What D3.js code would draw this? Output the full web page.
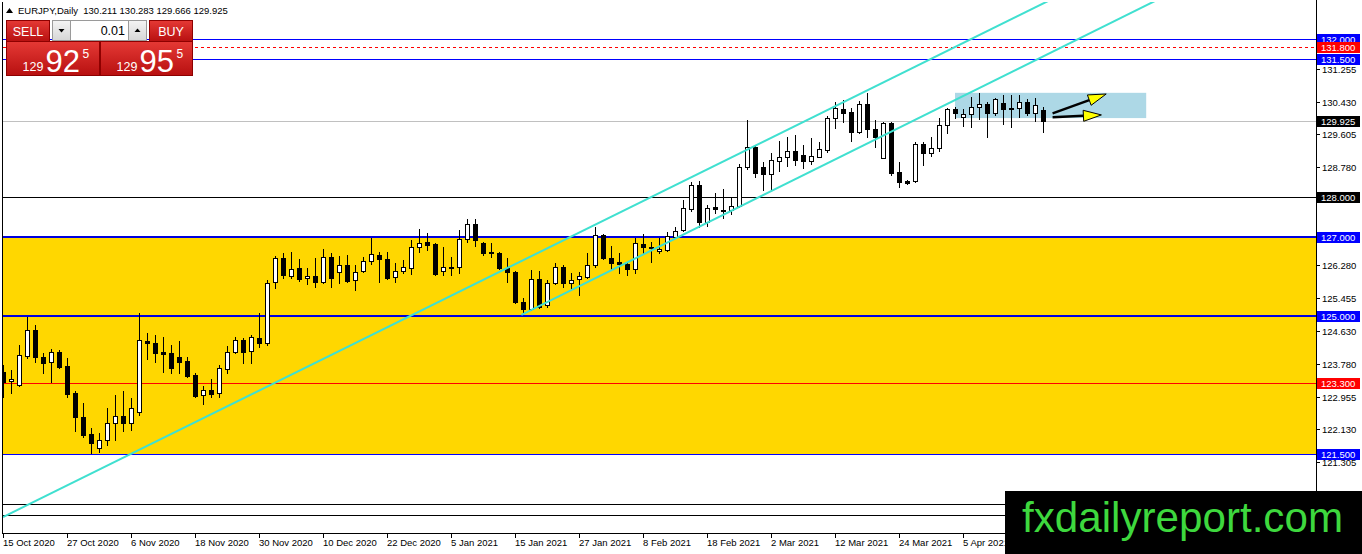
<!DOCTYPE html>
<html>
<head>
<meta charset="utf-8">
<script src="https://cdn.jsdelivr.net/npm/d3@7"></script>
<style>
body { margin: 0; background: #fff; overflow: hidden; }
text { font-family: "Liberation Sans", Arial, sans-serif; }
</style>
</head>
<body>
<div id="chart"></div>
<script>
// 头部信息
var symbolName = 'EURJPY,Daily';
var lastQuote = ['130.211', '130.283', '129.666', '129.925'];
var lotSize = '0.01';
var sellPrice = ['129', '92', '5'];
var buyPrice = ['129', '95', '5'];

// 时间轴标签（每8根K线一个）
var dateLabels = ['15 Oct 2020', '27 Oct 2020', '6 Nov 2020', '18 Nov 2020', '30 Nov 2020', '10 Dec 2020',
    '22 Dec 2020', '5 Jan 2021', '15 Jan 2021', '27 Jan 2021', '8 Feb 2021', '18 Feb 2021',
    '2 Mar 2021', '12 Mar 2021', '24 Mar 2021', '5 Apr 2021'];
var dateBars = [0, 8, 16, 24, 32, 40, 48, 56, 64, 72, 80, 88, 96, 104, 112, 120];

// 日线 OHLC
var openPrices = [123.58, 123.35, 123.25, 123.99, 124.65, 123.96, 123.84, 124.09, 123.73, 123.05,
    122.44, 122.01, 121.66, 121.86, 122.29, 122.47, 122.29, 122.57, 124.37, 124.32,
    124.09, 124.06, 123.96, 123.86, 123.51, 123.00, 123.13, 123.05, 123.66, 124.09,
    124.39, 124.11, 124.44, 124.32, 125.86, 126.47, 126.01, 126.22, 125.96, 126.01,
    125.86, 126.49, 126.11, 126.29, 125.91, 126.14, 126.39, 126.54, 126.44, 125.99,
    126.14, 126.22, 126.75, 126.87, 126.82, 126.14, 126.24, 126.24, 126.95, 127.33,
    126.85, 126.62, 126.59, 126.22, 126.11, 125.35, 125.18, 125.94, 125.28, 125.84,
    126.24, 125.84, 125.94, 125.99, 126.29, 127.05, 126.47, 126.37, 126.32, 126.19,
    126.82, 126.75, 126.65, 126.67, 127.00, 127.18, 127.71, 128.32, 127.38, 127.76,
    127.68, 127.68, 127.78, 128.77, 129.28, 128.77, 128.59, 128.92, 129.03, 129.18,
    129.08, 128.92, 129.03, 129.20, 130.01, 130.24, 130.16, 129.66, 130.37, 129.73,
    129.00, 129.89, 128.65, 128.42, 128.42, 129.35, 129.13, 129.25, 129.84, 130.24,
    130.04, 130.11, 130.29, 130.37, 130.14, 130.39, 130.27, 130.27, 130.42, 130.14,
    130.211];
var highPrices = [123.76, 123.63, 124.27, 124.97, 124.77, 124.06, 124.16, 124.14, 123.94, 123.10,
    122.80, 122.16, 122.04, 122.67, 123.00, 123.10, 122.92, 125.08, 124.57, 124.52,
    124.47, 124.27, 124.37, 123.96, 123.56, 123.23, 123.41, 123.76, 124.24, 124.47,
    124.44, 124.52, 125.08, 125.91, 126.52, 126.59, 126.62, 126.44, 126.22, 126.47,
    126.70, 126.59, 126.52, 126.54, 126.29, 126.49, 126.97, 126.62, 126.62, 126.34,
    126.42, 126.92, 127.20, 127.10, 126.85, 126.75, 126.49, 127.18, 127.46, 127.46,
    126.87, 126.85, 126.62, 126.47, 126.14, 125.46, 126.16, 126.14, 125.91, 126.34,
    126.29, 126.09, 126.11, 126.59, 127.25, 127.08, 126.77, 126.59, 126.37, 126.97,
    127.08, 126.87, 126.97, 127.13, 127.25, 127.94, 128.39, 128.42, 127.81, 128.11,
    128.22, 127.99, 128.85, 129.96, 129.30, 128.90, 129.13, 129.43, 129.53, 129.58,
    129.33, 129.51, 129.41, 130.06, 130.42, 130.47, 130.27, 130.44, 130.65, 129.96,
    129.91, 129.91, 128.90, 128.44, 129.41, 129.41, 129.53, 130.01, 130.27, 130.29,
    130.24, 130.54, 130.65, 130.42, 130.52, 130.59, 130.59, 130.59, 130.49, 130.52,
    130.283];
var lowPrices = [122.95, 123.05, 123.22, 123.94, 123.84, 123.56, 123.33, 123.68, 122.95, 122.09,
    121.94, 121.53, 121.56, 121.73, 121.86, 122.09, 122.11, 122.49, 123.91, 123.84,
    123.58, 123.56, 123.56, 123.46, 122.95, 122.77, 122.95, 122.95, 123.56, 124.06,
    123.81, 123.81, 124.22, 124.27, 125.71, 125.96, 125.96, 125.89, 125.81, 125.73,
    125.84, 125.73, 125.84, 125.86, 125.66, 126.11, 126.32, 125.86, 125.94, 125.86,
    126.09, 126.06, 126.62, 126.67, 126.04, 126.04, 126.04, 126.09, 126.87, 126.77,
    126.54, 126.49, 126.19, 125.86, 125.33, 125.08, 125.15, 125.20, 125.23, 125.81,
    125.73, 125.66, 125.53, 125.96, 126.24, 126.44, 126.19, 126.09, 126.04, 126.09,
    126.57, 126.37, 126.59, 126.65, 126.99, 127.15, 127.66, 127.25, 127.28, 127.61,
    127.48, 127.58, 127.76, 128.72, 128.52, 128.19, 128.19, 128.67, 128.80, 128.82,
    128.75, 128.85, 129.02, 129.15, 129.76, 129.91, 129.43, 129.63, 129.53, 129.28,
    129.00, 128.57, 128.27, 128.34, 128.39, 128.82, 129.05, 129.18, 129.63, 130.01,
    129.81, 129.78, 129.99, 129.53, 130.09, 129.86, 129.78, 130.04, 130.09, 129.94,
    129.666];
var closePrices = [123.33, 123.41, 124.01, 124.65, 123.96, 123.81, 124.09, 123.71, 123.03, 122.44,
    121.99, 121.78, 121.86, 122.29, 122.47, 122.29, 122.67, 124.39, 124.32, 124.06,
    124.04, 123.68, 123.84, 123.48, 122.97, 123.13, 123.03, 123.68, 124.09, 124.39,
    124.09, 124.47, 124.32, 125.84, 126.47, 126.04, 126.19, 125.94, 126.01, 125.86,
    126.49, 125.96, 126.29, 125.89, 126.11, 126.39, 126.57, 126.44, 125.96, 126.14,
    126.24, 126.75, 126.85, 126.80, 126.06, 126.24, 126.22, 126.95, 127.33, 126.92,
    126.59, 126.59, 126.22, 126.11, 125.35, 125.18, 125.94, 125.23, 125.84, 126.24,
    125.84, 125.91, 126.01, 126.29, 127.05, 126.47, 126.34, 126.32, 126.19, 126.85,
    126.75, 126.72, 126.70, 127.03, 127.15, 127.73, 128.32, 127.38, 127.73, 127.71,
    127.66, 127.78, 128.77, 129.28, 128.62, 128.59, 128.95, 129.03, 129.18, 128.95,
    128.92, 129.05, 129.23, 130.01, 130.27, 130.14, 129.66, 130.37, 129.73, 129.53,
    129.89, 128.62, 128.39, 128.37, 129.35, 129.13, 129.25, 129.84, 130.24, 130.14,
    130.11, 130.29, 130.37, 130.14, 130.49, 130.24, 130.24, 130.42, 130.14, 130.34,
    129.925];

// 价格轴刻度
var priceTicks = [131.255, 130.430, 129.605, 128.780, 126.280, 125.455, 124.630, 123.780, 122.955, 122.130, 121.305];

// 水平线
var levels = [132.000, 131.800, 131.500, 128.000, 127.000, 125.000, 123.300, 121.500, 120.250, 119.950];
var levelKinds = ['blue', 'redDash', 'blue', 'black', 'blueBold', 'blueBold', 'red', 'blue', 'black', 'black'];
var bidPrice = 129.925;

// 区域和框
var zonePrices = [127.000, 121.500];
var boxBars = [119, 142.9];
var boxPrices = [130.65, 130.01];

// 通道线（两点，向右延伸）
var trendBars = [[0, 110.6], [64.8, 97.1]];
var trendPrices = [[119.91, 130.97], [125.03, 128.27]];

// 箭头
var arrowBars = [[131.2, 137.9], [131.2, 137.3]];
var arrowPrices = [[130.13, 130.62], [130.03, 130.09]];

var width = 1362,
    height = 554;
var plotLeft = 3, plotRight = 1316, plotTop = 2, plotBottom = 533;
var markTop = 491; //水印上边

var x = d3.scaleLinear().domain([0, 164]).range([plotLeft, plotRight - 1]);
var y = d3.scaleLinear().domain([119.506, 132.949]).range([plotBottom, plotTop]);

function py(v) { return Math.round(y(v)) + 0.5; }
function px(v) { return Math.round(x(v)) + 0.5; }

var svg = d3.select('#chart').append('svg')
    .attr('width', width)
    .attr('height', height)
    .style('display', 'block');

svg.append('rect').attr('width', width).attr('height', height).attr('fill', '#fff');

var defs = svg.append('defs');
defs.append('clipPath').attr('id', 'plot_clip')
    .append('rect')
    .attr('x', plotLeft).attr('y', plotTop)
    .attr('width', plotRight - plotLeft).attr('height', plotBottom - plotTop);

var plot = svg.append('g').attr('clip-path', 'url(#plot_clip)');

// 黄色区域
plot.append('rect')
    .attr('x', plotLeft).attr('width', plotRight - plotLeft)
    .attr('y', y(zonePrices[0])).attr('height', y(zonePrices[1]) - y(zonePrices[0]))
    .attr('fill', '#ffd700');

// 浅蓝框
plot.append('rect')
    .attr('x', x(boxBars[0])).attr('width', x(boxBars[1]) - x(boxBars[0]))
    .attr('y', y(boxPrices[0])).attr('height', y(boxPrices[1]) - y(boxPrices[0]))
    .attr('fill', '#add8e6');

// 水平线
var lineStyle = {
    blue: { color: '#0000ff', w: 1, dash: null, label: '#0000ff' },
    blueBold: { color: '#0000dd', w: 2, dash: null, label: '#0000ff' },
    redDash: { color: '#ff0000', w: 1, dash: '3,3', label: '#ff0000' },
    red: { color: '#ff0000', w: 1, dash: null, label: '#ff0000' },
    black: { color: '#000', w: 1, dash: null, label: '#000' }
};

plot.append('line')
    .attr('x1', plotLeft).attr('x2', plotRight)
    .attr('y1', py(bidPrice)).attr('y2', py(bidPrice))
    .attr('stroke', '#c0c0c0');

plot.selectAll('line.level')
    .data(levels)
    .enter()
    .append('line')
    .attr('class', 'level')
    .attr('x1', plotLeft).attr('x2', plotRight)
    .attr('y1', function(d, i) { return lineStyle[levelKinds[i]].w == 2 ? Math.round(y(d)) : py(d); })
    .attr('y2', function(d, i) { return lineStyle[levelKinds[i]].w == 2 ? Math.round(y(d)) : py(d); })
    .attr('stroke', function(d, i) { return lineStyle[levelKinds[i]].color; })
    .attr('stroke-width', function(d, i) { return lineStyle[levelKinds[i]].w; })
    .attr('stroke-dasharray', function(d, i) { return lineStyle[levelKinds[i]].dash; });

// K线
var bars = plot.selectAll('g.bar')
    .data(d3.range(openPrices.length))
    .enter()
    .append('g')
    .attr('class', 'bar');

bars.append('line')
    .attr('x1', function(i) { return px(i); })
    .attr('x2', function(i) { return px(i); })
    .attr('y1', function(i) { return Math.round(y(highPrices[i])); })
    .attr('y2', function(i) { return Math.round(y(lowPrices[i])) + 1; })
    .attr('stroke', '#000');

bars.append('rect')
    .attr('x', function(i) { return Math.round(x(i)) - 1.5; })
    .attr('width', 4)
    .attr('y', function(i) { return Math.round(y(Math.max(openPrices[i], closePrices[i]))) + 0.5; })
    .attr('height', function(i) {
        return Math.max(1, Math.round(y(Math.min(openPrices[i], closePrices[i]))) - Math.round(y(Math.max(openPrices[i], closePrices[i]))));
    })
    .attr('fill', function(i) { return closePrices[i] >= openPrices[i] ? '#fff' : '#000'; })
    .attr('stroke', '#000');

// 通道线
plot.selectAll('line.trend')
    .data(trendBars)
    .enter()
    .append('line')
    .attr('class', 'trend')
    .attr('x1', function(d) { return x(d[0]); })
    .attr('y1', function(d, i) { return y(trendPrices[i][0]); })
    .attr('x2', function(d) { return x(200); })
    .attr('y2', function(d, i) {
        var p = trendPrices[i];
        var slope = (p[1] - p[0]) / (d[1] - d[0]);
        return y(p[0] + slope * (200 - d[0]));
    })
    .attr('stroke', '#40e0d0')
    .attr('stroke-width', 2);

// 箭头
arrowBars.forEach(function(b, i) {
    var x1 = x(b[0]), y1 = y(arrowPrices[i][0]);
    var x2 = x(b[1]), y2 = y(arrowPrices[i][1]);
    var ang = Math.atan2(y2 - y1, x2 - x1);
    var len = 18, hw = 5.5;
    var bx = x2 - len * Math.cos(ang), by = y2 - len * Math.sin(ang);
    plot.append('line')
        .attr('x1', x1).attr('y1', y1).attr('x2', bx).attr('y2', by)
        .attr('stroke', '#000').attr('stroke-width', 2.5);
    var pts = [
        [x2, y2],
        [bx + hw * Math.sin(ang), by - hw * Math.cos(ang)],
        [bx - hw * Math.sin(ang), by + hw * Math.cos(ang)]
    ];
    plot.append('polygon')
        .attr('points', pts.map(function(p) { return p.join(','); }).join(' '))
        .attr('fill', '#ffff00')
        .attr('stroke', '#000')
        .attr('stroke-width', 1);
});

// 边框和坐标轴
svg.append('line').attr('x1', 2.5).attr('x2', 2.5).attr('y1', plotTop).attr('y2', plotBottom)
    .attr('stroke', '#000');
svg.append('line').attr('x1', plotRight + 0.5).attr('x2', plotRight + 0.5).attr('y1', 0).attr('y2', plotBottom + 1)
    .attr('stroke', '#000');
svg.append('line').attr('x1', 2).attr('x2', plotRight + 1).attr('y1', plotBottom + 0.5).attr('y2', plotBottom + 0.5)
    .attr('stroke', '#000');

// 时间轴
var xTicks = svg.append('g');
xTicks.selectAll('line')
    .data(dateBars)
    .enter()
    .append('line')
    .attr('x1', function(d) { return px(d); })
    .attr('x2', function(d) { return px(d); })
    .attr('y1', plotBottom).attr('y2', plotBottom + 5)
    .attr('stroke', '#000');
xTicks.selectAll('text')
    .data(dateLabels)
    .enter()
    .append('text')
    .attr('x', function(d, i) { return Math.round(x(dateBars[i])); })
    .attr('y', 546)
    .style('font-size', '9.5px')
    .attr('fill', '#000')
    .text(function(d) { return d; });

// 价格轴
var yTicks = svg.append('g');
yTicks.selectAll('line')
    .data(priceTicks)
    .enter()
    .append('line')
    .attr('x1', plotRight).attr('x2', plotRight + 4)
    .attr('y1', function(d) { return py(d); })
    .attr('y2', function(d) { return py(d); })
    .attr('stroke', '#000');
yTicks.selectAll('text')
    .data(priceTicks)
    .enter()
    .append('text')
    .attr('x', plotRight + 6)
    .attr('y', function(d) { return y(d) + 4; })
    .style('font-size', '9.5px')
    .attr('fill', '#000')
    .text(function(d) { return d.toFixed(3); });

// 水平线价格标签（被水印挡住的不画）
var allLabels = levels.concat([bidPrice]);
var allKinds = levelKinds.concat(['black']);
var labelG = svg.append('g');
allLabels.forEach(function(v, i) {
    var cy = Math.round(y(v));
    if (cy - 5 > markTop) return;
    labelG.append('rect')
        .attr('x', plotRight + 1).attr('y', cy - 5)
        .attr('width', 43).attr('height', 11)
        .attr('fill', lineStyle[allKinds[i]].label);
    labelG.append('text')
        .attr('x', plotRight + 5).attr('y', cy + 4)
        .style('font-size', '9.5px')
        .attr('fill', '#fff')
        .text(v.toFixed(3));
});

// 左上角信息
var info = svg.append('g');
info.append('path').attr('d', 'M6,13 L9.5,8 L13,13 Z').attr('fill', '#000');
info.append('text')
    .attr('x', 18).attr('y', 14)
    .style('font-size', '9.5px')
    .style('white-space', 'pre')
    .attr('fill', '#000')
    .text(symbolName + '  ' + lastQuote.join(' '));

// 交易面板
var grad = defs.append('linearGradient').attr('id', 'red_grad').attr('x1', 0).attr('x2', 0).attr('y1', 0).attr('y2', 1);
grad.append('stop').attr('offset', '0%').attr('stop-color', '#e53935');
grad.append('stop').attr('offset', '100%').attr('stop-color', '#b71010');
var grey = defs.append('linearGradient').attr('id', 'grey_grad').attr('x1', 0).attr('x2', 0).attr('y1', 0).attr('y2', 1);
grey.append('stop').attr('offset', '0%').attr('stop-color', '#f4f4f4');
grey.append('stop').attr('offset', '100%').attr('stop-color', '#d6d6d6');

var panel = svg.append('g');
function button(x0, w, label) {
    panel.append('rect').attr('x', x0).attr('y', 20.5).attr('width', w).attr('height', 21)
        .attr('fill', 'url(#red_grad)').attr('stroke', '#8e0000');
    panel.append('text').attr('x', x0 + w / 2).attr('y', 36)
        .attr('text-anchor', 'middle').style('font-size', '12.5px').attr('fill', '#fff')
        .text(label);
}
button(6.5, 43, 'SELL');
button(149.5, 43, 'BUY');

panel.append('rect').attr('x', 52.5).attr('y', 20.5).attr('width', 18).attr('height', 20)
    .attr('fill', 'url(#grey_grad)').attr('stroke', '#9a9a9a');
panel.append('path').attr('d', 'M58.5,29 L64.5,29 L61.5,32.5 Z').attr('fill', '#000');
panel.append('rect').attr('x', 70.5).attr('y', 20.5).attr('width', 58).attr('height', 20)
    .attr('fill', '#fff').attr('stroke', '#9a9a9a');
panel.append('text').attr('x', 125).attr('y', 35).attr('text-anchor', 'end')
    .style('font-size', '12.5px').attr('fill', '#000').text(lotSize);
panel.append('rect').attr('x', 128.5).attr('y', 20.5).attr('width', 18).attr('height', 20)
    .attr('fill', 'url(#grey_grad)').attr('stroke', '#9a9a9a');
panel.append('path').attr('d', 'M134.5,32 L140.5,32 L137.5,28.5 Z').attr('fill', '#000');

function priceBox(x0, w, parts) {
    panel.append('rect').attr('x', x0).attr('y', 41.5).attr('width', w).attr('height', 34)
        .attr('fill', 'url(#red_grad)').attr('stroke', '#8e0000');
    panel.append('text').attr('x', x0 + 16).attr('y', 71).style('font-size', '12.5px')
        .attr('fill', '#fff').text(parts[0]);
    panel.append('text').attr('x', x0 + 39).attr('y', 72).style('font-size', '31px')
        .attr('fill', '#fff').text(parts[1]);
    panel.append('text').attr('x', x0 + 76).attr('y', 58).style('font-size', '12px')
        .attr('fill', '#fff').text(parts[2]);
}
priceBox(6.5, 93, sellPrice);
priceBox(100.5, 92, buyPrice);

// 水印
svg.append('rect').attr('x', 1005).attr('y', markTop).attr('width', 357).attr('height', height - markTop).attr('fill', '#000');
svg.append('text')
    .attr('x', 1022).attr('y', 532)
    .attr('textLength', 321)
    .attr('lengthAdjust', 'spacingAndGlyphs')
    .style('font-size', '42px')
    .attr('fill', '#3ed83e')
    .text('fxdailyreport.com');
</script>
</body>
</html>
